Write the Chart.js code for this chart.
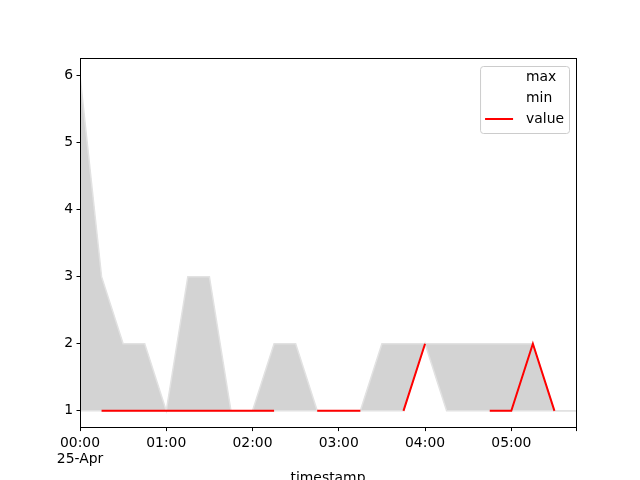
<!DOCTYPE html>
<html>
<head>
<meta charset="utf-8">
<script src="https://cdn.jsdelivr.net/npm/chart.js@4/dist/chart.umd.min.js"></script>
<style>
  html, body { margin: 0; padding: 0; background: #fff; }
  #wrap { width: 640px; height: 480px; }
</style>
</head>
<body>
<div id="wrap"><canvas id="chart" width="640" height="480"></canvas></div>
<script>
// timestamps on 25-Apr, every 15 minutes
const times = ["00:00","00:15","00:30","00:45","01:00","01:15","01:30","01:45",
  "02:00","02:15","02:30","02:45","03:00","03:15","03:30","03:45",
  "04:00","04:15","04:30","04:45","05:00","05:15","05:30","05:45"];
const maxVals = [6,3,2,2,1,3,3,1,1,2,2,1,1,1,2,2,2,2,2,2,2,2,1,1];
const minVals = [1,1,1,1,1,1,1,1,1,1,1,1,1,1,1,1,2,1,1,1,1,1,1,1];
const valueVals = [null,1,1,1,1,1,1,1,1,1,null,1,1,1,null,1,2,null,null,1,1,2,1,null];
const xTicks = [0,60,120,180,240,300,345];
const yTicks = [1,2,3,4,5,6];
const dayLabel = "25-Apr";

const toMin = t => { const [h, m] = t.split(":").map(Number); return h * 60 + m; };
const fmt = v => String(Math.floor(v / 60)).padStart(2, "0") + ":" + String(v % 60).padStart(2, "0");
const pts = arr => times.map((t, i) => ({ x: toMin(t), y: arr[i] }));

const FONT = "'DejaVu Sans', sans-serif";
Chart.defaults.color = "#000";
Chart.defaults.font.family = FONT;
Chart.defaults.font.size = 13.9;

// matplotlib-like frame round the axes
const framePlugin = {
  id: "frame",
  afterDatasetsDraw(chart) {
    const { ctx, chartArea: a } = chart;
    ctx.save();
    ctx.strokeStyle = "#000";
    ctx.lineWidth = 1;
    ctx.strokeRect(Math.round(a.left) + 0.5, Math.round(a.top) - 0.5,
      Math.round(a.right - a.left), Math.round(a.bottom - a.top));
    ctx.restore();
  }
};

// legend box in the upper right corner of the axes
const legendPlugin = {
  id: "boxLegend",
  afterDraw(chart) {
    const { ctx, chartArea: a } = chart;
    const sets = chart.data.datasets;
    ctx.save();
    ctx.font = "13.9px " + FONT;
    const tw = Math.max(...sets.map(d => ctx.measureText(d.label).width));
    const w = 45 + tw + 6, h = 67;
    const x0 = Math.round(a.right) - 7 - w, y0 = Math.round(a.top) + 7;
    ctx.beginPath();
    ctx.roundRect(x0 + 0.5, y0 + 0.5, w, h, 3);
    ctx.fillStyle = "rgba(255,255,255,0.8)";
    ctx.fill();
    ctx.strokeStyle = "#cccccc";
    ctx.lineWidth = 1;
    ctx.stroke();
    sets.forEach((d, i) => {
      const y = y0 + 11 + i * 21;
      ctx.beginPath();
      ctx.moveTo(x0 + 5, y);
      ctx.lineTo(x0 + 33, y);
      ctx.strokeStyle = d.legendColor || d.borderColor;
      ctx.lineWidth = 2;
      ctx.stroke();
      ctx.fillStyle = "#000";
      ctx.textBaseline = "middle";
      ctx.textAlign = "left";
      ctx.fillText(d.label, x0 + 46, y);
    });
    ctx.restore();
  }
};

new Chart(document.getElementById("chart"), {
  type: "line",
  data: {
    datasets: [
      { label: "max", data: pts(maxVals), borderColor: "#e2e2e2", legendColor: "#ffffff",
        borderWidth: 1.5, backgroundColor: "#d3d3d3", fill: "+1", order: 2 },
      { label: "min", data: pts(minVals), borderColor: "#e2e2e2", legendColor: "#ffffff",
        borderWidth: 1.5, fill: false, order: 1 },
      { label: "value", data: pts(valueVals), borderColor: "#ff0000", borderWidth: 2,
        fill: false, order: 0 }
    ]
  },
  options: {
    responsive: false,
    animation: false,
    events: [],
    elements: { point: { radius: 0 }, line: { tension: 0 } },
    layout: { padding: { left: 0, right: 64, top: 58.6, bottom: 0 } },
    plugins: { legend: { display: false }, tooltip: { enabled: false } },
    scales: {
      x: {
        type: "linear",
        min: 0, max: 345,
        afterBuildTicks: s => { s.ticks = xTicks.map(v => ({ value: v })); },
        afterFit: s => { s.height = 52.4; },
        ticks: {
          autoSkip: false, maxRotation: 0, padding: 3.5,
          callback: v => v === 0 ? [fmt(v), dayLabel] : (v === 345 ? "" : fmt(v))
        },
        grid: { drawOnChartArea: false, drawTicks: true, tickLength: 3.5, color: "#000" },
        border: { display: false },
        title: { display: true, text: "timestamp", padding: { top: 0, bottom: -7 } }
      },
      y: {
        min: 0.75, max: 6.25,
        afterBuildTicks: s => { s.ticks = yTicks.map(v => ({ value: v })); },
        afterFit: s => { s.width = 80; },
        ticks: { padding: 3.5 },
        grid: { drawOnChartArea: false, drawTicks: true, tickLength: 3.5, color: "#000" },
        border: { display: false }
      }
    }
  },
  plugins: [framePlugin, legendPlugin]
});
</script>
</body>
</html>
